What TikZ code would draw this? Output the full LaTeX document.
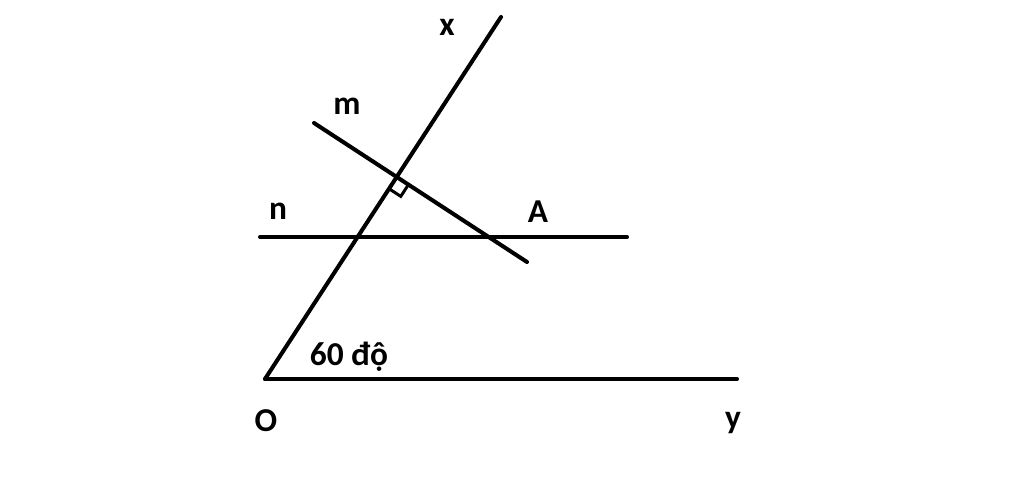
\documentclass[tikz,border=0pt]{standalone}
\usepackage{fontspec}
\setmainfont{Carlito}
\usetikzlibrary{calc}

\begin{document}
\begin{tikzpicture}[x=0.02cm, y=-0.02cm]
    \tikzstyle{ray} = [line width=2.3pt, line cap=round]
    \tikzstyle{lbl} = [inner sep=0pt, font=\fontsize{19}{22}\selectfont\bfseries]
    \useasboundingbox (0,0) rectangle (1024,486);
    % points
    \coordinate (O) at (265,379);
    \coordinate (yend) at (737,379);
    \coordinate (xend) at (501,17);
    \coordinate (n1) at (260,237);
    \coordinate (n2) at (627,237);
    \coordinate (m1) at (314,123);
    \coordinate (m2) at (527,262);
    \coordinate (I) at (396.7,177);
    % lines
    \draw[ray] (O) -- (yend);
    \draw[ray] (O) -- (xend);
    \draw[ray] (n1) -- (n2);
    \draw[ray] (m1) -- (m2);
    % right angle
    \coordinate (ra) at ($(I)!0.28cm!(O)$);
    \coordinate (rb) at ($(I)!0.28cm!(m2)$);
    \draw[line width=1.7pt] (ra) -- ($(ra)+(rb)-(I)$) -- (rb);
    % labels
    \node[lbl] (lx) at (447,27) {x};
    \node[lbl] (lm) at (347,106) {m};
    \node[lbl] (ln) at (278,211) {n};
    \node[lbl] (lA) at (538,212) {A};
    \node[lbl] (lO) at (266,421) {O};
    \node[lbl] (ly) at (733,423) {y};
    \node[lbl] (lang) at (349,357) {60 độ};
\end{tikzpicture}
\end{document}
